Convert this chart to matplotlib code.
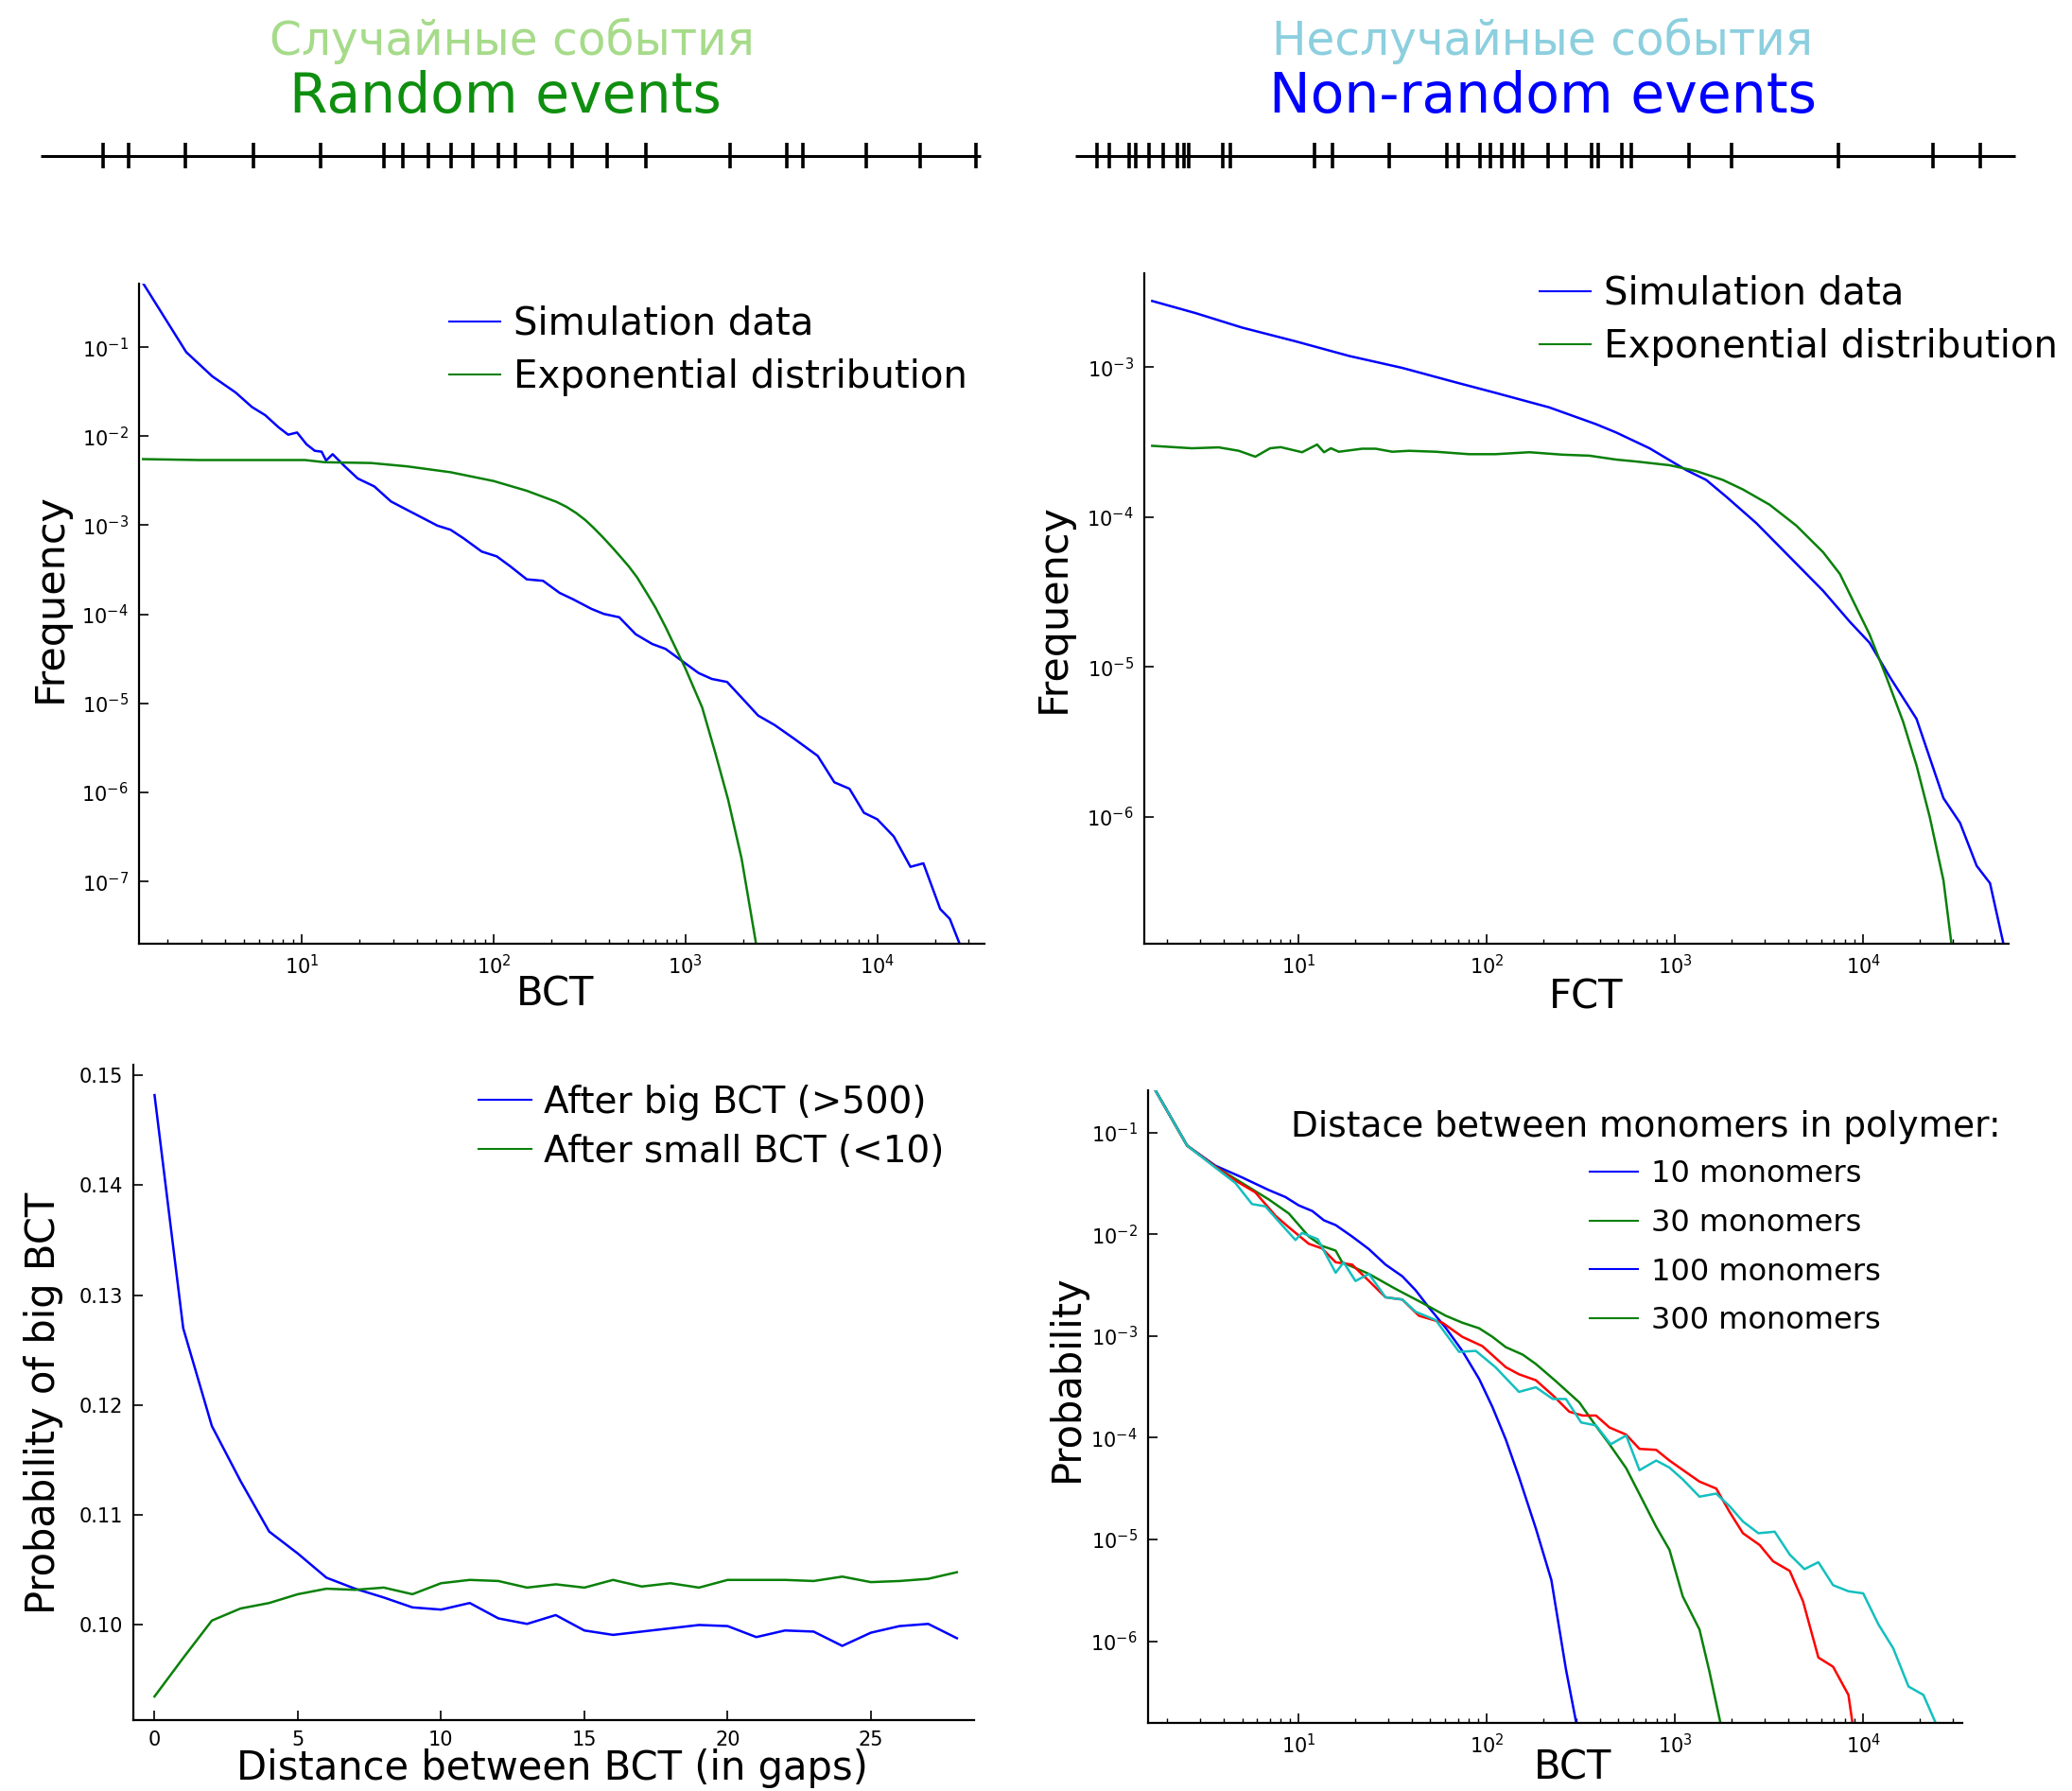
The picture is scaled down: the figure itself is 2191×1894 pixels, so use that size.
import matplotlib
matplotlib.use('Agg')
import matplotlib.pyplot as plt
from matplotlib.lines import Line2D

plt.rcParams['font.family'] = ['DejaVu Sans']

W, H = 2191, 1894

# event strips: positions of events along each line (0..1)
events_random = [0.0667, 0.0935, 0.1542, 0.2259, 0.2973, 0.3654, 0.3855, 0.4124,
                 0.4365, 0.4599, 0.4868, 0.5047, 0.5411, 0.5658, 0.6024, 0.6443,
                 0.7332, 0.7938, 0.8106, 0.8783, 0.9353, 0.9950]
events_nonrandom = [0.0234, 0.0362, 0.0569, 0.0644, 0.0781, 0.0932, 0.1090, 0.1157,
                    0.1207, 0.1569, 0.1650, 0.2541, 0.2736, 0.3336, 0.3957, 0.4077,
                    0.4309, 0.4412, 0.4537, 0.4671, 0.4755, 0.5030, 0.5225, 0.5493,
                    0.5567, 0.5818, 0.5912, 0.6529, 0.6982, 0.8122, 0.9121, 0.9630]

# panel 1: BCT distribution, random events
bct_sim_x = [1.47, 2.5, 3.42, 4.52, 5.5, 6.46, 7.57, 8.5, 9.46, 10.6,
             11.7, 12.7, 13.4, 14.5, 16.8, 19.6, 23.9, 29.2, 35.6, 51,
             59.7, 70, 86.7, 104, 122, 149, 181, 221, 259, 324,
             376, 452, 551, 672, 788, 1000, 1172, 1374, 1649, 1964,
             2394, 2924, 3707, 4896, 5975, 7166, 8530, 10000, 12200, 14900,
             17400, 21300, 23900, 27400]
bct_sim_y = [0.547, 0.088, 0.047, 0.031, 0.0213, 0.0172, 0.0126, 0.0104, 0.011, 0.0081,
             0.00686, 0.0067, 0.00533, 0.00628, 0.00457, 0.00335, 0.00273, 0.00185, 0.00148, 0.00099,
             0.00089, 0.00071, 0.000507, 0.000447, 0.000347, 0.000247, 0.000238, 0.000174, 0.000148, 0.000115,
             0.000101, 9.27e-5, 5.97e-5, 4.64e-5, 4.09e-5, 2.81e-5, 2.19e-5, 1.88e-5, 1.74e-5, 1.16e-5,
             7.3e-6, 5.7e-6, 3.98e-6, 2.57e-6, 1.3e-6, 1.1e-6, 5.9e-7, 5.0e-7, 3.2e-7, 1.46e-7,
             1.6e-7, 4.9e-8, 3.8e-8, 1.8e-8]
bct_exp_x = [1.49, 2.92, 6.46, 10.4, 13.2, 23, 35.6, 59.7, 100, 149,
             213, 240, 270, 300, 330, 370, 420, 460, 506, 560,
             640, 700, 788, 1000, 1223, 1424, 1670, 1964, 2355]
bct_exp_y = [0.00553, 0.0054, 0.0054, 0.0054, 0.0051, 0.0050, 0.00458, 0.00394, 0.00314, 0.00244,
             0.00183, 0.00161, 0.00137, 0.00115, 0.00095, 0.00074, 0.00055, 0.00044, 0.000347, 0.00026,
             0.000163, 0.000118, 7.21e-5, 2.47e-5, 9.0e-6, 2.9e-6, 8.3e-7, 1.8e-7, 1.8e-8]

# panel 2: FCT distribution, non-random events
fct_sim_x = [1.66, 2.82, 4.99, 9.6, 18.5, 35.5, 68, 111, 214, 380,
             486, 731, 1146, 1463, 1868, 2703, 4066, 6120, 8490, 10800,
             13900, 19200, 26700, 32700, 40100, 47200, 56500]
fct_sim_y = [0.00277, 0.0023, 0.00184, 0.00149, 0.00119, 0.00099, 0.000794, 0.000675, 0.00054, 0.000417,
             0.000367, 0.000288, 0.000206, 0.000177, 0.000137, 9.11e-5, 5.42e-5, 3.22e-5, 2.0e-5, 1.45e-5,
             8.5e-6, 4.5e-6, 1.33e-6, 9.1e-7, 4.7e-7, 3.6e-7, 1.3e-7]
fct_exp_x = [1.66, 2.70, 3.75, 4.79, 5.87, 7.03, 8.0, 10.4, 12.5, 13.6,
             14.8, 16.3, 21.7, 25.6, 31.4, 38.5, 53.5, 80, 111, 168,
             252, 350, 486, 620, 933, 1294, 1794, 2291, 3178, 4411,
             6120, 7510, 9210, 10800, 13300, 16300, 19200, 22600, 26700, 29700]
fct_exp_y = [0.000299, 0.000288, 0.000292, 0.000277, 0.000253, 0.000288, 0.000293, 0.000271, 0.000305, 0.000271,
             0.000288, 0.000273, 0.000286, 0.000286, 0.000273, 0.000277, 0.000273, 0.000263, 0.000263, 0.000271,
             0.000261, 0.000257, 0.000242, 0.000235, 0.000222, 0.000203, 0.000177, 0.000153, 0.000121, 8.77e-5,
             5.83e-5, 4.18e-5, 2.48e-5, 1.65e-5, 8.5e-6, 4.3e-6, 2.2e-6, 9.9e-7, 3.76e-7, 1.3e-7]

# panel 3: probability of big BCT vs distance
gaps = list(range(29))
after_big = [0.1482, 0.1270, 0.1181, 0.1131, 0.1085, 0.1065, 0.1043, 0.1033, 0.1025, 0.1016,
             0.1014, 0.1020, 0.1006, 0.1001, 0.1009, 0.0995, 0.0991, 0.0994, 0.0997, 0.1000,
             0.0999, 0.0989, 0.0995, 0.0994, 0.0981, 0.0993, 0.0999, 0.1001, 0.0988]
after_small = [0.0935, 0.0970, 0.1004, 0.1015, 0.1020, 0.1028, 0.1033, 0.1032, 0.1034, 0.1028,
               0.1038, 0.1041, 0.1040, 0.1034, 0.1037, 0.1034, 0.1041, 0.1035, 0.1038, 0.1034,
               0.1041, 0.1041, 0.1041, 0.1040, 0.1044, 0.1039, 0.1040, 0.1042, 0.1048]

# panel 4: BCT distribution for different distances between monomers
m10_x = [1.62, 2.55, 3.6, 4.99, 6.92, 8.49, 10, 11.8, 13.6, 15.7, 19.2, 23.6, 28.9,
         35.5, 41.8, 49.2, 60.4, 74, 90.9, 107, 126, 148, 182, 220, 263, 302]
m10_y = [0.32, 0.0743, 0.0472, 0.0362, 0.0272, 0.0232, 0.0192, 0.0169, 0.0137, 0.0123,
         0.0095, 0.00713, 0.00503, 0.00386, 0.00281, 0.0019, 0.0012, 0.000713, 0.000378, 0.0002,
         9.59e-5, 4.11e-5, 1.28e-5, 3.99e-6, 5.3e-7, 1.4e-7]
m30_x = [1.62, 2.55, 3.6, 4.99, 6.92, 8.85, 11.3, 13.3, 15.7, 17, 23.6, 32.7, 45.4, 60.4,
         74, 90.9, 107, 126, 155, 182, 233, 310, 380, 448, 550, 647, 794, 934, 1099, 1349,
         1524, 1766]
m30_y = [0.32, 0.0743, 0.0462, 0.0319, 0.022, 0.016, 0.0095, 0.00767, 0.0069, 0.0053,
         0.00407, 0.0029, 0.00211, 0.00158, 0.00135, 0.00119, 0.00098, 0.000776, 0.000655, 0.00053,
         0.000358, 0.000222, 0.00013, 8.62e-5, 5.01e-5, 2.79e-5, 1.33e-5, 7.9e-6, 2.75e-6, 1.3e-6,
         5.0e-7, 1.4e-7]
m100_x = [1.62, 2.55, 3.6, 4.6, 5.87, 7.51, 8.85, 11.3, 13.3, 15.7,
          19.2, 23.6, 28.9, 35.5, 43.5, 58, 74, 94.6, 126, 148,
          182, 224, 274, 323, 380, 448, 550, 647, 794, 934,
          1099, 1349, 1656, 1950, 2296, 2818, 3318, 4070, 4790, 5780,
          6920, 8350, 8850]
m100_y = [0.32, 0.0743, 0.0462, 0.0337, 0.0258, 0.0152, 0.0117, 0.00805, 0.00724, 0.0053,
          0.00503, 0.00347, 0.0024, 0.00228, 0.00158, 0.00135, 0.00098, 0.000794, 0.000493, 0.00042,
          0.000367, 0.000261, 0.00018, 0.000165, 0.000165, 0.000126, 0.000107, 7.76e-5, 7.59e-5, 5.96e-5,
          4.82e-5, 3.7e-5, 3.16e-5, 1.86e-5, 1.15e-5, 8.8e-6, 6.1e-6, 4.9e-6, 2.46e-6, 6.9e-7,
          5.6e-7, 2.96e-7, 1.4e-7]
m300_x = [1.62, 2.55, 3.6, 4.6, 5.64, 6.64, 7.81, 9.6, 10.4, 12.6,
          15.7, 17.3, 20, 23.6, 28.9, 35.5, 41.8, 53.5, 71.1, 87.3,
          111, 148, 182, 224, 263, 317, 380, 455, 550, 647,
          794, 934, 1099, 1349, 1656, 1950, 2296, 2775, 3388, 4070,
          4875, 5780, 6920, 8350, 10000, 12080, 14450, 17420, 20900, 24960]
m300_y = [0.32, 0.0743, 0.0452, 0.0319, 0.0198, 0.0188, 0.0134, 0.00877, 0.0103, 0.00895,
          0.00418, 0.0053, 0.00347, 0.00407, 0.0024, 0.00228, 0.00173, 0.00143, 0.000698, 0.000713,
          0.000493, 0.000282, 0.000313, 0.00024, 0.00024, 0.000141, 0.000132, 8.62e-5, 0.000105, 4.79e-5,
          5.96e-5, 5.08e-5, 3.89e-5, 2.63e-5, 2.82e-5, 2.12e-5, 1.5e-5, 1.15e-5, 1.19e-5, 7.1e-6,
          5.1e-6, 5.97e-6, 3.55e-6, 3.09e-6, 2.95e-6, 1.45e-6, 8.5e-7, 3.58e-7, 2.96e-7, 1.4e-7]

BLUE = '#0000ff'
GREEN = '#0a800a'
RED = '#ff0000'
CYAN = '#14bfbf'
LW = 1.8


def px_axes(fig, left, top, right, bottom):
    return fig.add_axes([left / W, 1 - bottom / H, (right - left) / W, (bottom - top) / H])


def style(ax):
    for s in ['top', 'right']:
        ax.spines[s].set_visible(False)
    for s in ['left', 'bottom']:
        ax.spines[s].set_linewidth(1.6)
    ax.tick_params(which='major', direction='in', length=7, width=1.2, labelsize=15, pad=8)
    ax.tick_params(which='minor', direction='in', length=3.5, width=1.0)
    ax.tick_params(axis='y', which='minor', left=False)


def legend_at(ax, handles, labels, x, y, size, hl, pad, spacing):
    return ax.legend(handles, labels, loc='upper left', bbox_to_anchor=(x / W, 1 - y / H),
                     bbox_transform=fig.transFigure, frameon=False, borderpad=0,
                     borderaxespad=0, fontsize=size, handlelength=hl,
                     handletextpad=pad, labelspacing=spacing)


fig = plt.figure(figsize=(W / 100, H / 100), dpi=100)

# titles
fig.text(541 / W, 1 - 43 / H, 'Случайные события', color='#a6db8a', fontsize=35,
         ha='center', va='center')
fig.text(534 / W, 1 - 102 / H, 'Random events', color='#0f8f0f', fontsize=42,
         ha='center', va='center')
fig.text(1631 / W, 1 - 43 / H, 'Неслучайные события', color='#8ccfde', fontsize=35,
         ha='center', va='center')
fig.text(1631 / W, 1 - 102 / H, 'Non-random events', color=BLUE, fontsize=42,
         ha='center', va='center')

# event strips
for (l, r), ev in [((43, 1037), events_random), ((1137, 2131), events_nonrandom)]:
    sax = px_axes(fig, l, 140, r, 190)
    sax.set_xlim(0, 1)
    sax.set_ylim(0, 1)
    sax.axis('off')
    sax.plot([0, 1], [0.5, 0.5], color='black', lw=2.2, solid_capstyle='butt', clip_on=False)
    sax.vlines(ev, 0.23, 0.77, color='black', lw=2.6)

# panel 1
ax1 = px_axes(fig, 147, 300, 1041, 998)
ax1.plot(bct_sim_x, bct_sim_y, color=BLUE, lw=LW)
ax1.plot(bct_exp_x, bct_exp_y, color=GREEN, lw=LW)
ax1.set_xscale('log')
ax1.set_yscale('log')
ax1.set_xlim(1.419, 36220)
ax1.set_ylim(2.0e-8, 0.516)
ax1.set_yticks([1e-7, 1e-6, 1e-5, 1e-4, 1e-3, 1e-2, 1e-1])
ax1.set_xticks([10, 100, 1000, 10000])
style(ax1)
ax1.set_xlabel('BCT', fontsize=30)
ax1.set_ylabel('Frequency', fontsize=31)
ax1.xaxis.set_label_coords(0.492, -0.076)
ax1.xaxis.label.set_va('center')
ax1.yaxis.set_label_coords(-0.105, 0.525)
ax1.yaxis.label.set_va('center')
legend_at(ax1, [Line2D([], [], color=BLUE, lw=1.5), Line2D([], [], color=GREEN, lw=1.5)],
          ['Simulation data', 'Exponential distribution'], 475, 323, 29, 1.33, 0.35, 0.40)

# panel 2
ax2 = px_axes(fig, 1210, 289, 2124, 998)
ax2.plot(fct_sim_x, fct_sim_y, color=BLUE, lw=LW)
ax2.plot(fct_exp_x, fct_exp_y, color=GREEN, lw=LW)
ax2.set_xscale('log')
ax2.set_yscale('log')
ax2.set_xlim(1.507, 59290)
ax2.set_ylim(1.42e-7, 0.00424)
ax2.set_yticks([1e-6, 1e-5, 1e-4, 1e-3])
ax2.set_xticks([10, 100, 1000, 10000])
style(ax2)
ax2.set_xlabel('FCT', fontsize=30)
ax2.set_ylabel('Frequency', fontsize=31)
ax2.xaxis.set_label_coords(0.511, -0.080)
ax2.xaxis.label.set_va('center')
ax2.yaxis.set_label_coords(-0.105, 0.50)
ax2.yaxis.label.set_va('center')
legend_at(ax2, [Line2D([], [], color=BLUE, lw=1.5), Line2D([], [], color=GREEN, lw=1.5)],
          ['Simulation data', 'Exponential distribution'], 1628, 291, 29, 1.33, 0.35, 0.40)

# panel 3
ax3 = px_axes(fig, 141, 1126, 1030, 1819)
ax3.plot(gaps, after_big, color=BLUE, lw=LW)
ax3.plot(gaps, after_small, color=GREEN, lw=LW)
ax3.set_xlim(-0.74, 28.6)
ax3.set_ylim(0.09135, 0.15096)
ax3.set_xticks([0, 5, 10, 15, 20, 25])
ax3.set_yticks([0.10, 0.11, 0.12, 0.13, 0.14, 0.15])
ax3.set_yticklabels(['0.10', '0.11', '0.12', '0.13', '0.14', '0.15'])
style(ax3)
ax3.set_xlabel('Distance between BCT (in gaps)', fontsize=30)
ax3.set_ylabel('Probability of big BCT', fontsize=30)
ax3.xaxis.set_label_coords(0.498, -0.073)
ax3.xaxis.label.set_va('center')
ax3.yaxis.set_label_coords(-0.107, 0.483)
ax3.yaxis.label.set_va('center')
legend_at(ax3, [Line2D([], [], color=BLUE, lw=1.5), Line2D([], [], color=GREEN, lw=1.5)],
          ['After big BCT (>500)', 'After small BCT (<10)'], 506, 1147, 28, 1.43, 0.35, 0.35)

# panel 4
ax4 = px_axes(fig, 1214, 1153, 2075, 1822)
ax4.plot(m10_x, m10_y, color=BLUE, lw=LW)
ax4.plot(m30_x, m30_y, color=GREEN, lw=LW)
ax4.plot(m100_x, m100_y, color=RED, lw=LW)
ax4.plot(m300_x, m300_y, color=CYAN, lw=LW)
ax4.set_xscale('log')
ax4.set_yscale('log')
ax4.set_xlim(1.58, 33650)
ax4.set_ylim(1.57e-7, 0.26)
ax4.set_yticks([1e-6, 1e-5, 1e-4, 1e-3, 1e-2, 1e-1])
ax4.set_xticks([10, 100, 1000, 10000])
style(ax4)
ax4.set_xlabel('BCT', fontsize=30)
ax4.set_ylabel('Probability', fontsize=30)
ax4.xaxis.set_label_coords(0.521, -0.071)
ax4.xaxis.label.set_va('center')
ax4.yaxis.set_label_coords(-0.100, 0.546)
ax4.yaxis.label.set_va('center')
fig.text(1365 / W, 1 - 1192 / H, 'Distace between monomers in polymer:', fontsize=27,
         ha='left', va='center')
legend_at(ax4, [Line2D([], [], color=c, lw=1.5) for c in [BLUE, GREEN, BLUE, GREEN]],
          ['10 monomers', '30 monomers', '100 monomers', '300 monomers'],
          1681, 1226, 23, 1.6, 0.44, 0.65)

fig.savefig('out.png', dpi=100)
